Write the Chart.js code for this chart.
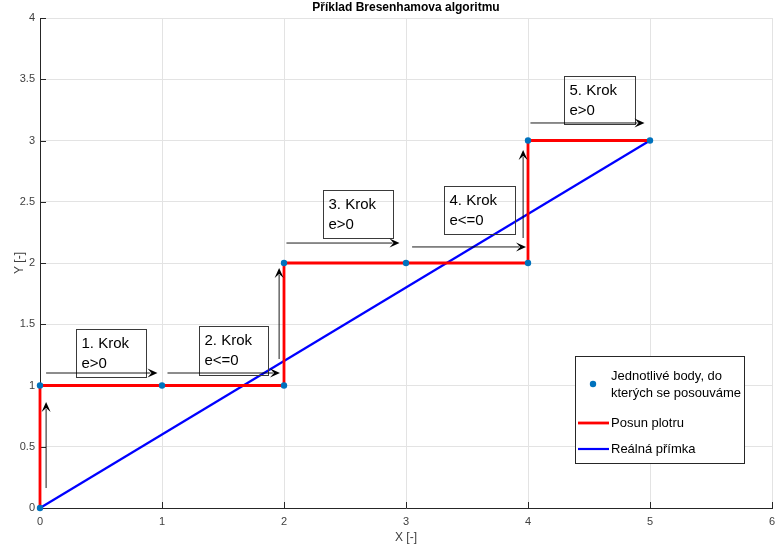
<!DOCTYPE html>
<html>
<head>
<meta charset="utf-8">
<script src="https://cdn.jsdelivr.net/npm/chart.js@4/dist/chart.umd.min.js"></script>
<style>
html,body{margin:0;padding:0;background:#fff;}
#wrap{width:776px;height:548px;}
</style>
</head>
<body>
<div id="wrap"><canvas id="c" width="776" height="548"></canvas></div>
<script>
// ---- data ----
const pointX = [0, 0, 1, 2, 2, 3, 4, 4, 5];
const pointY = [0, 1, 1, 1, 2, 2, 2, 3, 3];
const stepX = [0, 0, 2, 2, 4, 4, 5];
const stepY = [0, 1, 1, 2, 2, 3, 3];
const lineX = [0, 5];
const lineY = [0, 3];
const xTickLabels = ['0', '1', '2', '3', '4', '5', '6'];
const yTickLabels = ['0', '0.5', '1', '1.5', '2', '2.5', '3', '3.5', '4'];
const seriesNames = [['Jednotlivé body, do', 'kterých se posouváme'], ['Posun plotru'], ['Reálná přímka']];
const stepTexts = [['1. Krok', 'e>0'], ['2. Krok', 'e<=0'], ['3. Krok', 'e>0'], ['4. Krok', 'e<=0'], ['5. Krok', 'e>0']];
const titleText = 'Příklad Bresenhamova algoritmu';
const xTitle = 'X [-]';
const yTitle = 'Y [-]';

// annotation placement (data units)
const boxX0 = [0.294, 1.306, 2.318, 3.314, 4.294];
const boxX1 = [0.865, 1.869, 2.890, 3.894, 4.873];
const boxYTop = [1.461, 1.486, 2.596, 2.629, 3.527];
const boxYBot = [1.069, 1.086, 2.204, 2.237, 3.135];
const arrowFromX = [0.05, 0.05, 1.045, 1.96, 2.02, 3.05, 3.96, 4.02];
const arrowFromY = [0.163, 1.102, 1.102, 1.216, 2.163, 2.131, 2.204, 3.143];
const arrowToX = [0.05, 0.963, 1.967, 1.96, 2.947, 3.984, 3.96, 4.955];
const arrowToY = [0.865, 1.102, 1.102, 1.96, 2.163, 2.131, 2.922, 3.143];

const FONT = "'Liberation Sans', Arial, Helvetica, sans-serif";
Chart.defaults.font.family = FONT;

const toXY = (xs, ys) => xs.map((x, i) => ({x: x, y: ys[i]}));

function drawArrowHead(ctx, x0, y0, x1, y1) {
  const ang = Math.atan2(y1 - y0, x1 - x0);
  const L = 10, W = 4.5, N = 6;
  ctx.save();
  ctx.translate(x1, y1);
  ctx.rotate(ang);
  ctx.beginPath();
  ctx.moveTo(0, 0);
  ctx.lineTo(-L, W);
  ctx.lineTo(-N, 0);
  ctx.lineTo(-L, -W);
  ctx.closePath();
  ctx.fillStyle = '#000';
  ctx.fill();
  ctx.restore();
}

const decor = {
  id: 'decor',
  beforeDatasetsDraw(chart) {
    const {ctx, chartArea: a, scales: {x, y}} = chart;
    ctx.save();
    ctx.strokeStyle = '#262626';
    ctx.lineWidth = 1;
    const tl = 6;
    xTickLabels.forEach((t) => {
      const px = Math.round(x.getPixelForValue(Number(t))) + 0.5;
      ctx.beginPath(); ctx.moveTo(px, a.bottom); ctx.lineTo(px, a.bottom - tl); ctx.stroke();
    });
    yTickLabels.forEach((t) => {
      const py = Math.round(y.getPixelForValue(Number(t))) + 0.5;
      ctx.beginPath(); ctx.moveTo(a.left, py); ctx.lineTo(a.left + tl, py); ctx.stroke();
    });
    // title centred over the plot area
    ctx.fillStyle = '#000';
    ctx.font = 'bold 12px ' + FONT;
    ctx.textAlign = 'center';
    ctx.textBaseline = 'middle';
    ctx.fillText(titleText, (a.left + a.right) / 2, a.top - 10);
    ctx.restore();
  },
  afterDatasetsDraw(chart) {
    const {ctx, chartArea: a, scales: {x, y}} = chart;
    ctx.save();
    // text boxes
    stepTexts.forEach((lines, i) => {
      const l = Math.round(x.getPixelForValue(boxX0[i])) + 0.5;
      const r = Math.round(x.getPixelForValue(boxX1[i])) + 0.5;
      const t = Math.round(y.getPixelForValue(boxYTop[i])) + 0.5;
      const b = Math.round(y.getPixelForValue(boxYBot[i])) + 0.5;
      ctx.strokeStyle = '#3a3a3a';
      ctx.lineWidth = 1;
      ctx.strokeRect(l, t, r - l, b - t);
      ctx.fillStyle = '#000';
      ctx.font = '15px ' + FONT;
      ctx.textBaseline = 'middle';
      ctx.textAlign = 'left';
      lines.forEach((s, k) => ctx.fillText(s, l + 5, t + 14 + k * 20));
    });
    // arrows
    arrowFromX.forEach((fx, i) => {
      const x0 = x.getPixelForValue(fx), y0 = y.getPixelForValue(arrowFromY[i]);
      const x1 = x.getPixelForValue(arrowToX[i]), y1 = y.getPixelForValue(arrowToY[i]);
      ctx.strokeStyle = '#000';
      ctx.lineWidth = 0.9;
      ctx.beginPath();
      const ang = Math.atan2(y1 - y0, x1 - x0);
      ctx.moveTo(x0, y0);
      ctx.lineTo(x1 - 7 * Math.cos(ang), y1 - 7 * Math.sin(ang));
      ctx.stroke();
      drawArrowHead(ctx, x0, y0, x1, y1);
    });
    // legend
    const ds = chart.data.datasets;
    const L = a.right - 197, R = a.right - 28, T = a.bottom - 152, B = a.bottom - 45;
    ctx.fillStyle = '#fff';
    ctx.fillRect(L, T, R - L, B - T);
    ctx.strokeStyle = '#262626';
    ctx.lineWidth = 1;
    ctx.strokeRect(Math.round(L) + 0.5, Math.round(T) + 0.5, R - L, B - T);
    ctx.font = '13px ' + FONT;
    ctx.textBaseline = 'middle';
    ctx.textAlign = 'left';
    const tx = L + 36;
    ctx.fillStyle = ds[0].backgroundColor;
    ctx.beginPath(); ctx.arc(L + 18, T + 28, 3.2, 0, Math.PI * 2); ctx.fill();
    ctx.fillStyle = '#000';
    seriesNames[0].forEach((s, k) => ctx.fillText(s, tx, T + 20 + k * 17));
    ctx.strokeStyle = ds[1].borderColor; ctx.lineWidth = ds[1].borderWidth;
    ctx.beginPath(); ctx.moveTo(L + 3, T + 67); ctx.lineTo(L + 34, T + 67); ctx.stroke();
    ctx.fillText(seriesNames[1][0], tx, T + 67);
    ctx.strokeStyle = ds[2].borderColor; ctx.lineWidth = ds[2].borderWidth;
    ctx.beginPath(); ctx.moveTo(L + 3, T + 93); ctx.lineTo(L + 34, T + 93); ctx.stroke();
    ctx.fillText(seriesNames[2][0], tx, T + 93);
    ctx.restore();
  }
};

new Chart(document.getElementById('c'), {
  type: 'scatter',
  data: {
    datasets: [
      {
        label: seriesNames[0].join(' '),
        data: toXY(pointX, pointY),
        showLine: false,
        pointRadius: 3.2,
        pointBorderWidth: 0,
        backgroundColor: '#0072BD',
        borderColor: '#0072BD',
        clip: false
      },
      {
        label: seriesNames[1][0],
        data: toXY(stepX, stepY),
        showLine: true,
        borderColor: '#FF0000',
        borderWidth: 2.8,
        pointRadius: 0,
        fill: false,
        tension: 0,
        clip: false
      },
      {
        label: seriesNames[2][0],
        data: toXY(lineX, lineY),
        showLine: true,
        borderColor: '#0000FF',
        borderWidth: 2.2,
        pointRadius: 0,
        fill: false,
        tension: 0,
        clip: false
      }
    ]
  },
  options: {
    responsive: false,
    animation: false,
    devicePixelRatio: 1,
    layout: {padding: {left: 0, right: -3, top: 18, bottom: 0}},
    plugins: {
      legend: {display: false},
      tooltip: {enabled: false},
      title: {display: false}
    },
    scales: {
      x: {
        type: 'linear',
        min: 0, max: 6,
        afterFit: (s) => { s.height = 40; s.paddingRight = 0; s.paddingLeft = 0; },
        afterBuildTicks: (s) => { s.ticks = xTickLabels.map(v => ({value: Number(v)})); },
        ticks: {
          padding: 7,
          color: '#404040',
          font: {size: 11},
          callback: (v) => xTickLabels[xTickLabels.indexOf(String(v))] ?? ''
        },
        grid: {color: '#e3e3e3', drawTicks: false},
        border: {display: true, color: '#262626', width: 1},
        title: {display: true, text: xTitle, color: '#404040', font: {size: 12}, padding: {top: 0, bottom: 3}}
      },
      y: {
        type: 'linear',
        min: 0, max: 4,
        afterFit: (s) => { s.width = 40; s.paddingTop = 0; s.paddingBottom = 0; },
        afterBuildTicks: (s) => { s.ticks = yTickLabels.map(v => ({value: Number(v)})); },
        ticks: {
          padding: 5,
          color: '#404040',
          font: {size: 11},
          callback: (v) => yTickLabels[yTickLabels.indexOf(String(v))] ?? ''
        },
        grid: {color: '#e3e3e3', drawTicks: false},
        border: {display: true, color: '#262626', width: 1},
        title: {display: true, text: yTitle, color: '#404040', font: {size: 12}, padding: {top: 12, bottom: 0}}
      }
    }
  },
  plugins: [decor]
});
</script>
</body>
</html>
